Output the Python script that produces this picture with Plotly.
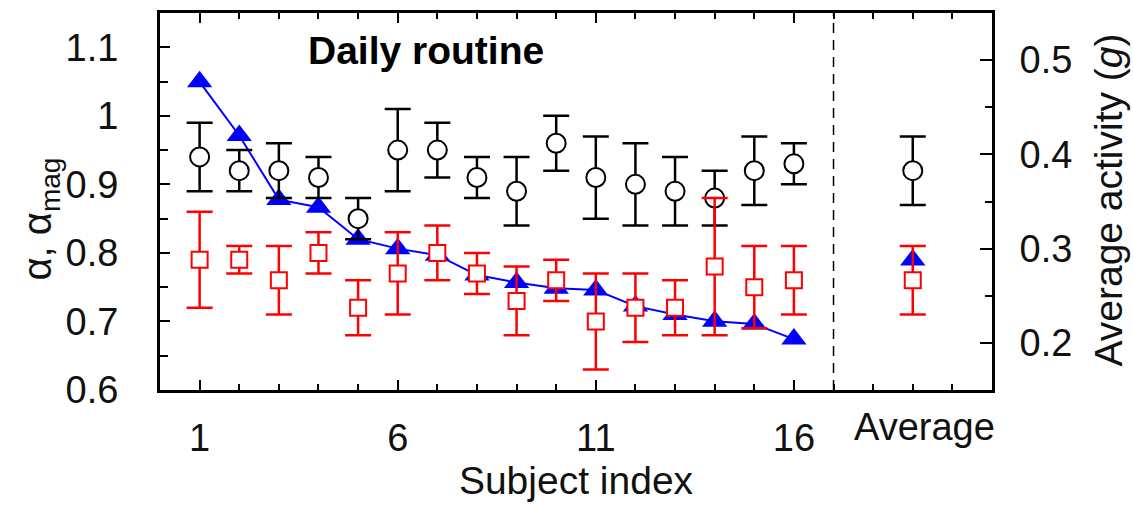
import plotly.graph_objects as go

# ---------------- data ----------------
subjects = list(range(1, 17))
avg_pos = 19
avg_label = "Average"

alpha = [0.94, 0.92, 0.92, 0.91, 0.85, 0.95, 0.95, 0.91, 0.89, 0.96, 0.91, 0.90, 0.89, 0.88, 0.92, 0.93]
alpha_err = [0.05, 0.03, 0.04, 0.03, 0.03, 0.06, 0.04, 0.03, 0.05, 0.04, 0.06, 0.06, 0.05, 0.04, 0.05, 0.03]
alpha_avg = 0.92
alpha_avg_err = 0.05

alpha_mag = [0.79, 0.79, 0.76, 0.80, 0.72, 0.77, 0.80, 0.77, 0.73, 0.76, 0.70, 0.72, 0.72, 0.78, 0.75, 0.76]
alpha_mag_err = [0.07, 0.02, 0.05, 0.03, 0.04, 0.06, 0.04, 0.03, 0.05, 0.03, 0.07, 0.05, 0.04, 0.10, 0.06, 0.05]
alpha_mag_avg = 0.76
alpha_mag_avg_err = 0.05

activity = [0.477, 0.420, 0.352, 0.344, 0.310, 0.300, 0.293, 0.272, 0.264, 0.258, 0.256, 0.239, 0.230, 0.223, 0.220, 0.204]
activity_avg = 0.288

x_tickvals = [1, 6, 11, 16]
x_ticktext = ["1", "6", "11", "16"]

FONT = "Liberation Sans, Arial, sans-serif"
BLACK = "#000000"
RED = "#ff0000"
BLUE = "#0000ff"
TXT = "#111111"

fig = go.Figure()

# blue activity (main y axis, right side, drawn beneath the others)
fig.add_trace(go.Scatter(
    x=subjects, y=activity, mode="lines+markers", yaxis="y",
    line=dict(color=BLUE, width=2),
    marker=dict(symbol="triangle-up", size=22, color=BLUE, line=dict(width=0)),
    showlegend=False, cliponaxis=False))
fig.add_trace(go.Scatter(
    x=[avg_pos], y=[activity_avg], mode="markers", yaxis="y",
    marker=dict(symbol="triangle-up", size=22, color=BLUE, line=dict(width=0)),
    showlegend=False, cliponaxis=False))

# black alpha
fig.add_trace(go.Scatter(
    x=subjects + [avg_pos], y=alpha + [alpha_avg], mode="markers", yaxis="y2",
    marker=dict(symbol="circle", size=19, color="white", line=dict(color=BLACK, width=2)),
    error_y=dict(type="data", array=alpha_err + [alpha_avg_err], color=BLACK, thickness=2.5, width=13),
    showlegend=False, cliponaxis=False))

# red alpha_mag
fig.add_trace(go.Scatter(
    x=subjects + [avg_pos], y=alpha_mag + [alpha_mag_avg], mode="markers", yaxis="y2",
    marker=dict(symbol="square", size=16, color="white", line=dict(color=RED, width=2)),
    error_y=dict(type="data", array=alpha_mag_err + [alpha_mag_avg_err], color=RED, thickness=2.5, width=13),
    showlegend=False, cliponaxis=False))

fig.update_layout(
    width=1133, height=505,
    margin=dict(l=160, r=141, t=10, b=99),
    paper_bgcolor="white", plot_bgcolor="white",
    font=dict(family=FONT, size=38, color=TXT),
    xaxis=dict(
        range=[0, 21], tickmode="array", tickvals=x_tickvals, ticktext=x_ticktext,
        ticks="inside", ticklen=10, tickwidth=2, tickcolor=BLACK,
        showline=True, linewidth=3, linecolor=BLACK, mirror="ticks",
        showgrid=False, zeroline=False,
        tickfont=dict(size=38, color=TXT), ticklabelstandoff=12,
        minor=dict(tickmode="linear", tick0=0, dtick=1, ticks="inside", ticklen=6,
                   tickwidth=1.5, tickcolor=BLACK, showgrid=False),
        title=dict(text="Subject index", font=dict(size=39, color=TXT), standoff=9),
    ),
    yaxis=dict(
        side="right", range=[0.15, 0.55], tickmode="linear", tick0=0, dtick=0.1,
        ticks="inside", ticklen=12, tickwidth=2, tickcolor=BLACK,
        showline=True, linewidth=3, linecolor=BLACK, mirror=False,
        showgrid=False, zeroline=False,
        tickfont=dict(size=38, color=TXT), ticklabelstandoff=17,
        minor=dict(tickmode="linear", tick0=0.05, dtick=0.1, ticks="inside", ticklen=7,
                   tickwidth=1.5, tickcolor=BLACK, showgrid=False),
    ),
    yaxis2=dict(
        overlaying="y", side="left", anchor="x", range=[0.6, 1.15],
        tickmode="linear", tick0=0, dtick=0.1,
        ticks="inside", ticklen=10, tickwidth=2, tickcolor=BLACK,
        showline=True, linewidth=3, linecolor=BLACK, mirror=False,
        showgrid=False, zeroline=False,
        tickfont=dict(size=38, color=TXT), ticklabelstandoff=31,
        minor=dict(tickmode="linear", tick0=0.05, dtick=0.1, ticks="inside", ticklen=8,
                   tickwidth=1.5, tickcolor=BLACK, showgrid=False),
    ),
    shapes=[dict(type="line", xref="x", yref="paper", x0=17, x1=17, y0=0, y1=1,
                 line=dict(color=BLACK, width=1.5, dash="10px,7px"))],
    annotations=[
        dict(text="<b>Daily routine</b>", xref="x", yref="y2", x=6.71, y=1.095,
             showarrow=False, font=dict(size=39, color=BLACK), xanchor="center", yanchor="middle"),
        dict(text="α, α<sub>mag</sub>", xref="paper", yref="paper",
             x=(40 - 160) / 832, y=(406 - 227) / 396, textangle=-90,
             showarrow=False, font=dict(size=40, color=TXT), xanchor="center", yanchor="middle"),
        dict(text="Average activity (<i>g</i>)", xref="paper", yref="paper",
             x=(1109 - 160) / 832, y=(406 - 207) / 396, textangle=-90,
             showarrow=False, font=dict(size=39, color=TXT), xanchor="center", yanchor="middle"),
        dict(text=avg_label, xref="x", yref="paper", x=19.3, y=0, yanchor="top",
             yshift=-14, showarrow=False, font=dict(size=38, color=TXT)),
    ],
)

fig.write_html("out.html")
